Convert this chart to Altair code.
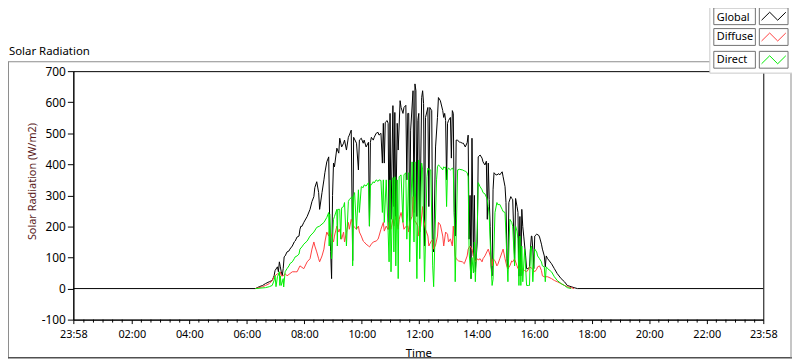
import altair as alt
import pandas as pd

# ---------------- data (minutes of the day, W/m2) ----------------
GLOBAL = [(-2,0),(378,0),(386,6),(393,10),(399,16),(407,22),(413,26),(417,41),(419,58),(424,70),(426,54),(428,86),(430,70),(432,54),(434,41),(436,64),(438,102),(440,105),(444,118),(448,121),(450,127),(455,137),(459,150),(461,153),(465,166),(469,169),(471,191),(473,201),(475,200),(479,213),(486,232),(492,255),(496,280),(500,296),(502,325),(506,344),(510,309),(512,255),(517,309),(521,350),(523,373),(527,408),(531,424),(533,213),(535,120),(537,32),(539,300),(541,404),(543,392),(548,452),(552,436),(554,484),(558,456),(562,468),(564,478),(568,446),(572,487),(574,494),(578,510),(581,90),(583,487),(589,468),(593,382),(595,478),(599,484),(603,468),(605,478),(609,456),(614,471),(616,201),(618,471),(620,487),(624,478),(626,487),(630,500),(634,503),(636,494),(640,500),(643,404),(645,532),(647,404),(649,535),(653,541),(655,532),(657,191),(659,564),(661,223),(665,589),(667,264),(669,567),(671,223),(674,532),(676,446),(680,605),(682,583),(686,564),(688,583),(692,590),(694,350),(696,564),(698,564),(700,191),(702,510),(707,637),(709,245),(711,659),(713,637),(715,232),(717,541),(719,564),(721,182),(725,615),(727,637),(729,596),(731,137),(733,551),(738,583),(740,264),(742,583),(746,573),(748,137),(750,118),(754,456),(758,551),(760,615),(764,605),(769,573),(771,551),(773,564),(775,541),(777,350),(779,532),(781,541),(785,551),(787,420),(789,573),(791,564),(793,245),(795,169),(797,478),(800,478),(804,471),(806,471),(810,468),(812,468),(816,456),(820,470),(822,494),(824,159),(826,300),(828,32),(830,484),(833,105),(835,300),(837,54),(841,150),(843,424),(847,430),(851,420),(853,408),(857,398),(860,410),(862,223),(864,404),(866,287),(868,200),(870,73),(872,41),(874,318),(876,373),(880,366),(882,366),(886,370),(888,366),(893,376),(895,360),(899,328),(901,277),(903,96),(905,64),(907,277),(911,296),(913,290),(915,287),(919,96),(921,290),(924,264),(926,245),(928,40),(930,232),(932,41),(934,255),(936,200),(938,169),(942,105),(944,64),(948,64),(950,70),(952,127),(954,169),(955,169),(957,127),(959,64),(961,169),(965,175),(969,172),(971,166),(975,143),(977,127),(981,105),(983,70),(985,105),(988,96),(996,80),(1002,64),(1008,48),(1016,32),(1023,22),(1029,10),(1037,6),(1043,3),(1050,0),(1438,0)]

DIRECT = [(378,0),(399,3),(407,6),(413,10),(417,26),(419,41),(421,6),(424,38),(428,54),(429,10),(430,41),(432,10),(436,32),(437,5),(440,54),(444,64),(448,73),(450,80),(455,86),(459,96),(461,102),(465,105),(469,111),(471,127),(475,134),(479,143),(486,153),(492,169),(500,182),(506,197),(512,201),(521,213),(527,229),(531,245),(532,137),(533,240),(537,96),(541,223),(543,232),(548,255),(549,137),(550,255),(554,255),(556,159),(558,260),(562,264),(564,277),(568,137),(572,280),(574,287),(578,293),(580,296),(581,73),(583,300),(585,309),(589,191),(593,318),(595,245),(599,328),(603,325),(605,334),(609,330),(614,341),(616,201),(618,336),(620,334),(624,344),(626,340),(630,350),(634,345),(636,350),(640,348),(643,245),(645,350),(647,213),(651,350),(655,182),(657,86),(659,350),(661,54),(665,357),(667,118),(669,360),(671,73),(674,350),(676,32),(678,360),(682,366),(686,213),(688,366),(692,373),(694,159),(698,373),(700,86),(705,408),(709,150),(711,408),(715,32),(719,414),(721,96),(725,404),(727,382),(731,22),(736,360),(738,388),(740,382),(744,382),(748,73),(750,6),(756,350),(758,392),(760,398),(764,392),(769,382),(771,392),(773,388),(775,392),(777,264),(779,382),(781,388),(785,382),(789,388),(791,382),(793,245),(795,22),(800,382),(804,384),(810,382),(814,379),(816,378),(820,373),(822,360),(824,118),(828,32),(830,100),(833,50),(835,150),(837,22),(841,191),(843,341),(847,328),(851,318),(853,309),(857,305),(862,287),(864,264),(866,232),(870,73),(872,10),(874,30),(878,245),(882,277),(884,270),(888,271),(893,255),(895,248),(899,245),(903,96),(905,22),(909,223),(913,213),(915,201),(919,73),(921,201),(924,185),(926,160),(928,10),(930,169),(932,10),(934,137),(936,22),(940,127),(944,10),(948,10),(950,10),(952,127),(954,137),(957,22),(961,127),(965,118),(967,105),(971,96),(975,86),(977,73),(981,70),(983,22),(985,70),(988,64),(996,54),(1002,38),(1008,26),(1016,16),(1023,10),(1029,3),(1037,0)]

DIFFUSE = [(378,0),(393,6),(399,10),(407,16),(413,26),(417,38),(419,41),(424,48),(428,42),(430,54),(432,41),(436,41),(440,48),(444,41),(450,48),(455,54),(461,54),(465,54),(471,73),(479,64),(486,86),(492,96),(496,127),(500,150),(502,137),(506,118),(510,96),(512,86),(517,105),(521,127),(523,150),(527,182),(531,169),(533,191),(537,169),(541,150),(543,169),(548,201),(552,182),(554,191),(558,159),(562,182),(564,150),(568,182),(572,213),(574,191),(578,223),(583,201),(585,197),(589,191),(593,201),(595,182),(599,169),(603,153),(605,150),(609,143),(614,137),(616,134),(620,143),(624,150),(630,153),(634,159),(636,169),(640,191),(645,213),(647,185),(651,201),(655,190),(657,213),(661,191),(665,223),(667,201),(671,232),(676,191),(678,223),(682,245),(686,213),(688,191),(692,200),(696,201),(698,182),(700,215),(705,232),(707,296),(709,220),(713,213),(717,201),(719,169),(723,201),(727,264),(729,223),(733,191),(738,169),(740,137),(744,150),(748,159),(750,127),(754,140),(758,169),(760,213),(764,205),(769,169),(771,137),(775,182),(779,175),(781,150),(785,160),(789,137),(791,201),(795,105),(797,96),(802,89),(810,86),(814,80),(820,105),(822,127),(826,137),(830,127),(833,105),(837,86),(841,96),(843,92),(847,96),(851,86),(853,96),(857,105),(862,121),(864,127),(868,105),(872,73),(874,96),(878,90),(882,73),(884,78),(888,96),(893,118),(895,127),(899,96),(903,70),(905,64),(909,73),(913,89),(915,86),(919,96),(924,73),(926,64),(930,66),(934,64),(940,58),(944,54),(948,62),(950,70),(954,66),(957,62),(961,54),(965,62),(967,70),(971,73),(975,58),(977,41),(981,38),(988,38),(996,32),(1002,26),(1008,22),(1016,16),(1023,10),(1029,6),(1037,3),(1043,0)]

SERIES = ["Global", "Diffuse", "Direct"]
COLORS = ["#000000", "#ff4040", "#00ee00"]
X_MAJOR = [-2, 120, 240, 360, 480, 600, 720, 840, 960, 1080, 1200, 1320, 1438]
X_MINOR = [m for m in range(20, 1440, 20) if m % 120 != 0]
Y_TICKS = [-100, 0, 100, 200, 300, 400, 500, 600, 700]

FONT = "Noto Sans"
W, H = 697, 251


def frame(pairs, name):
    return pd.DataFrame({"t": [p[0] for p in pairs], "v": [p[1] for p in pairs],
                         "series": name, "i": list(range(len(pairs)))})


x_scale = alt.Scale(domain=[-2, 1438], nice=False, zero=False)
y_scale = alt.Scale(domain=[-100, 700], nice=False, zero=False)

x_axis = alt.Axis(values=X_MAJOR, title="Time", grid=False, labelFlush=False, labelOverlap=False,
                  labelExpr="(datum.value < 0 || datum.value > 1430) ? '23:58' : ((datum.value/60 < 10 ? '0' : '') + (datum.value/60) + ':00')",
                  tickSize=4, labelPadding=5, domainColor="#000", tickColor="#000",
                  labelFont=FONT, labelFontSize=11, labelColor="#000",
                  titleFont=FONT, titleFontSize=11.5, titleFontWeight="normal", titleColor="#000",
                  titleY=34, titleBaseline="middle")
y_axis = alt.Axis(values=Y_TICKS, title="Solar Radiation (W/m2)", grid=False, tickSize=6, labelPadding=2,
                  labelExpr="'' + datum.value",
                  domainColor="#000", tickColor="#000", labelFont=FONT, labelFontSize=12, labelColor="#000",
                  titleFont=FONT, titleFontSize=11, titleFontWeight="normal", titleColor="#5a1c1c",
                  titleX=-41, titleY=111, titleAngle=270, titleAlign="center", titleBaseline="middle")

X = alt.X("t:Q", scale=x_scale, axis=x_axis)
Y = alt.Y("v:Q", scale=y_scale, axis=y_axis)


def line(pairs, name, color):
    return alt.Chart(frame(pairs, name)).mark_line(color=color, strokeWidth=1).encode(
        x=X, y=Y, order="i:Q")


one = alt.Data(values=[{"a": 1}])


def rect(x1, x2, y1, y2, fill, stroke, sw=1):
    return alt.Chart(one).mark_rect(fill=fill, stroke=stroke, strokeWidth=sw).encode(
        x=alt.value(x1), x2=alt.value(x2), y=alt.value(y1), y2=alt.value(y2))


def hrule(x1, x2, y, color, sw=1):
    return alt.Chart(one).mark_rule(color=color, strokeWidth=sw).encode(
        x=alt.value(x1), x2=alt.value(x2), y=alt.value(y))


def vrule(x, y1, y2, color, sw=1):
    return alt.Chart(one).mark_rule(color=color, strokeWidth=sw).encode(
        x=alt.value(x), y=alt.value(y1), y2=alt.value(y2))


def text(x, y, s, size=11, align="left"):
    return alt.Chart(one).mark_text(font=FONT, fontSize=size, align=align, baseline="middle",
                                    color="#000").encode(x=alt.value(x), y=alt.value(y), text=alt.value(s))


ZIG = "M-1,0.33L-0.33,-0.33L0.33,0.33L1,-0.33"

layers = []
# outer gray frame
layers.append(hrule(-66, 643, -9.5, "#8c8c8c"))
layers.append(vrule(-65.5, -9.5, 290, "#8c8c8c"))
layers.append(hrule(-66, 726, 289.5, "#505050", 1.5))
layers.append(vrule(725, 2, 290, "#8c8c8c"))
layers.append(text(-65, -19, "Solar Radiation", 11.5))

# minor ticks on x axis
minor = pd.DataFrame({"t": X_MINOR, "v": 0})
layers.append(alt.Chart(minor).mark_rule(color="#000", strokeWidth=1).encode(
    x=X, y=alt.value(H), y2=alt.value(H + 3)))

# data lines
layers.append(line(GLOBAL, "Global", COLORS[0]))
layers.append(line(DIFFUSE, "Diffuse", COLORS[1]))
layers.append(line(DIRECT, "Direct", COLORS[2]))

# legend panel
layers.append(rect(643, 730, -75, 2, "#ffffff", "#c8c8c8"))
rows = [(-64, -47), (-43, -26), (-20, -3)]
text_dy = [1.5, 0, 0]
for (y1, y2), name, col, dy in zip(rows, SERIES, COLORS, text_dy):
    layers.append(rect(647, 689, y1, y2, "#ffffff", "#707070"))
    layers.append(rect(693, 722, y1, y2, "#ffffff", "#707070"))
    layers.append(text(650, (y1 + y2) / 2 + dy, name))
    layers.append(alt.Chart(one).mark_point(shape=ZIG, size=600, filled=False, stroke=col,
                                            strokeWidth=1, opacity=1).encode(
        x=alt.value(707.5), y=alt.value((y1 + y2) / 2)))

chart = alt.layer(*layers).properties(
    width=W, height=H,
    autosize=alt.AutoSizeParams(type="none"),
    padding={"left": 66, "top": 62, "right": 29, "bottom": 40},
    background="#ffffff",
).configure_view(stroke="#000", strokeWidth=1)

chart.save("out.html", embed_options={"renderer": "svg", "actions": False})
